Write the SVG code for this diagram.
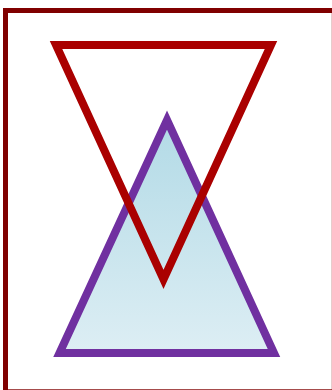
<svg xmlns="http://www.w3.org/2000/svg" width="332" height="390" viewBox="0 0 332 390">
  <defs>
    <linearGradient id="fillGrad" x1="0" y1="0" x2="0" y2="1">
      <stop offset="0" stop-color="#b2dae6"/>
      <stop offset="1" stop-color="#ddeef4"/>
    </linearGradient>
    <style>
      .frame { fill: none; stroke: #800000; stroke-width: 5; }
      .tri { stroke-width: 8; stroke-linejoin: miter; stroke-miterlimit: 10; }
    </style>
  </defs>
  <rect width="332" height="390" fill="#ffffff"/>
  <g id="frame">
    <rect class="frame" x="5.5" y="10.5" width="328.8" height="381.3"/>
  </g>
  <g id="upTriangle">
    <polygon class="tri" points="167,120 274,353 59.5,353" fill="url(#fillGrad)" stroke="#7030a0"/>
  </g>
  <g id="downTriangle">
    <polygon class="tri" points="56,45 271,45 163.5,279.5" fill="none" stroke="#aa0000"/>
  </g>
</svg>
